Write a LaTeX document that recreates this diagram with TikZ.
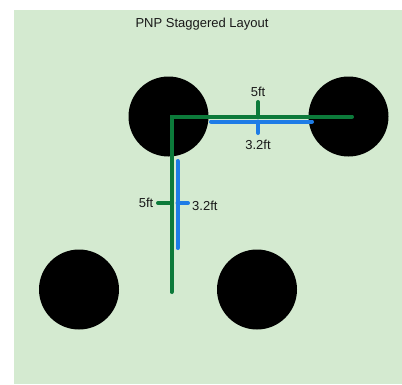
\documentclass[tikz,border=0pt]{standalone}
\usepackage{fontspec}
\setmainfont{Liberation Sans}
\definecolor{bggreen}{RGB}{212,234,208}
\definecolor{lgreen}{RGB}{12,122,58}
\definecolor{lblue}{RGB}{30,124,230}
\begin{document}
\begin{tikzpicture}[x=1pt,y=-1pt,
  hole/.style={circle,fill=black,minimum size=80pt,inner sep=0pt},
  gline/.style={draw=lgreen,line width=4pt,line cap=round},
  bline/.style={draw=lblue,line width=4pt,line cap=round},
  lbl/.style={font=\fontsize{13}{15}\selectfont,text=black!90,inner sep=0pt}]
\useasboundingbox (0,0) rectangle (402,384);
\fill[white] (0,0) rectangle (402,384);
\fill[bggreen] (14,10) rectangle (402,384);
\node[lbl,font=\fontsize{13}{15}\selectfont] (title) at (202,24) {PNP Staggered Layout};
\node[hole] (tl) at (168.5,116.5) {};
\node[hole] (tr) at (348.5,116.5) {};
\node[hole] (bl) at (79,289.5) {};
\node[hole] (br) at (257,289.5) {};
% green 5ft dimension lines
\coordinate (gh1) at (352,116.5);
\coordinate (gv1) at (171.5,292);
\coordinate (gc) at (171.5,116.5);
\draw[gline] (gh1) -- (gc) -- (gv1);
\coordinate (gt1) at (258,102);
\coordinate (gt2) at (258,116.5);
\draw[gline] (gt1) -- (gt2);
\coordinate (gvt1) at (158,203);
\coordinate (gvt2) at (171.5,203);
\draw[gline] (gvt1) -- (gvt2);
% blue 3.2ft lines
\coordinate (bh1) at (211,121.5);
\coordinate (bh2) at (312,121.5);
\draw[bline] (bh1) -- (bh2);
\coordinate (bt1) at (258,121.5);
\coordinate (bt2) at (258,133);
\draw[bline] (bt1) -- (bt2);
\coordinate (bv1) at (177.5,161);
\coordinate (bv2) at (177.5,248);
\draw[bline] (bv1) -- (bv2);
\coordinate (bvt1) at (177.5,203);
\coordinate (bvt2) at (188,203);
\draw[bline] (bvt1) -- (bvt2);
% labels
\node[lbl] (l1) at (258,91.5) {5ft};
\node[lbl] (l2) at (258,145) {3.2ft};
\node[lbl] (l3) at (146,202.5) {5ft};
\node[lbl,anchor=west] (l4) at (192,206) {3.2ft};
\end{tikzpicture}
\end{document}
